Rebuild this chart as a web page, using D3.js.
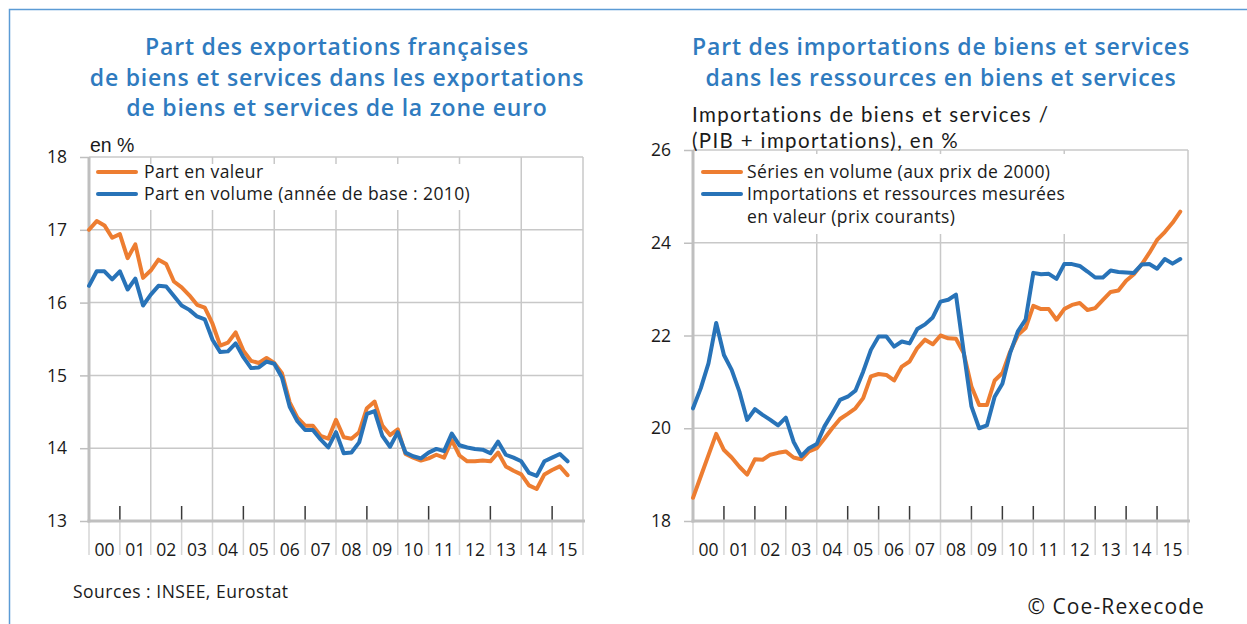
<!DOCTYPE html>
<html><head><meta charset="utf-8">
<script src="https://cdn.jsdelivr.net/npm/d3@7"></script>
<style>body{margin:0;background:#fff} svg{display:block}</style>
</head><body><svg id="c" width="1247" height="624"></svg>
<script>
// ---------- DATA ----------
const yearLabels = ["00","01","02","03","04","05","06","07","08","09","10","11","12","13","14","15"];
// Left chart: quarterly 2000Q1 - 2015Q3
const exportsValeur = [17.00,17.12,17.06,16.89,16.94,16.61,16.80,16.34,16.44,16.59,16.53,16.29,16.21,16.10,15.97,15.93,
  15.71,15.41,15.45,15.59,15.34,15.20,15.17,15.24,15.17,15.03,14.63,14.42,14.31,14.31,14.17,14.13,
  14.39,14.15,14.13,14.22,14.55,14.64,14.31,14.18,14.26,13.92,13.87,13.83,13.86,13.91,13.87,14.11,
  13.90,13.82,13.82,13.83,13.82,13.94,13.75,13.69,13.64,13.49,13.44,13.64,13.70,13.75,13.63];
const exportsVolume = [16.23,16.43,16.43,16.32,16.43,16.18,16.33,15.96,16.11,16.23,16.22,16.09,15.96,15.90,15.81,15.77,
  15.49,15.32,15.33,15.44,15.25,15.10,15.11,15.19,15.16,14.97,14.57,14.37,14.25,14.25,14.12,14.01,
  14.22,13.93,13.94,14.08,14.47,14.51,14.17,14.02,14.22,13.94,13.89,13.86,13.94,13.99,13.96,14.20,
  14.04,14.01,13.99,13.98,13.93,14.09,13.91,13.87,13.82,13.66,13.62,13.82,13.87,13.92,13.82];
const leftTicks = [13,14,15,16,17,18];
const leftLegend = ["Part en valeur","Part en volume (année de base : 2010)"];

// Right chart: quarterly 2000Q1 - 2015Q4
const importsVolume = [18.50,18.96,19.42,19.88,19.53,19.37,19.17,19.00,19.33,19.32,19.43,19.47,19.50,19.37,19.33,19.50,
  19.57,19.78,20.00,20.20,20.31,20.43,20.65,21.12,21.17,21.15,21.03,21.33,21.44,21.73,21.91,21.81,
  22.00,21.94,21.93,21.62,20.90,20.50,20.50,21.03,21.19,21.65,22.01,22.16,22.64,22.57,22.57,22.34,
  22.57,22.66,22.70,22.55,22.59,22.77,22.94,22.97,23.18,23.32,23.53,23.78,24.06,24.23,24.43,24.67];
const importsValeur = [20.43,20.86,21.40,22.27,21.58,21.26,20.79,20.18,20.41,20.29,20.18,20.06,20.23,19.71,19.40,19.57,
  19.66,20.04,20.32,20.61,20.68,20.81,21.22,21.69,21.98,21.98,21.76,21.87,21.83,22.14,22.24,22.39,
  22.73,22.77,22.88,21.65,20.47,20.00,20.06,20.68,20.96,21.62,22.09,22.34,23.35,23.32,23.33,23.22,
  23.54,23.54,23.50,23.38,23.25,23.25,23.40,23.37,23.36,23.35,23.53,23.54,23.44,23.65,23.55,23.65];
const rightTicks = [18,20,22,24,26];
const rightLegend = ["Séries en volume (aux prix de 2000)","Importations et ressources mesurées","en valeur (prix courants)"];

const leftTitle = ["Part des exportations françaises","de biens et services dans les exportations","de biens et services de la zone euro"];
const rightTitle = ["Part des importations de biens et services","dans les ressources en biens et services"];
const rightSubtitle = ["Importations de biens et services /","(PIB + importations), en %"];

// ---------- STYLE ----------
const ORANGE = "#ed7d31", BLUE = "#2873b8", TITLE = "#2f7bbf";
const GRID = "#c8c8c8", AXIS = "#bfbfbf", SEP = "#d6d6d6", TICK = "#3a3a3a";
const FONT = "'Open Sans', Lato, sans-serif";

const svg = d3.select("#c");

svg.append("rect").attr("x",9.5).attr("y",9.5).attr("width",1260).attr("height",640)
  .attr("fill","none").attr("stroke","#5b9bd5").attr("stroke-width",1.5);

function chart(opt){
  const g = svg.append("g");
  const x = d3.scaleLinear().domain([2000,2016]).range([opt.x0,opt.x1]);
  const y = d3.scaleLinear().domain(opt.yDomain).range([opt.yBottom,opt.yTop]);
  const years = d3.range(2000,2017);

  g.append("g").selectAll("line").data(opt.ticks.filter(t=>t!==opt.yDomain[0])).join("line")
    .attr("x1",opt.x0).attr("x2",opt.x1).attr("y1",d=>y(d)).attr("y2",d=>y(d))
    .attr("stroke",GRID).attr("stroke-width",1.5);
  const gridYears = years.filter(yr=>yr>2000 && (yr-2000)%opt.gridEvery===0);
  g.append("g").selectAll("line").data(gridYears).join("line")
    .attr("x1",d=>x(d)).attr("x2",d=>x(d)).attr("y1",opt.yTop).attr("y2",opt.yBottom)
    .attr("stroke",GRID).attr("stroke-width",1.5);
  g.append("g").selectAll("line").data(years.filter(yr=>yr>2000 && yr<2016 && (yr-2000)%opt.gridEvery!==0)).join("line")
    .attr("x1",d=>x(d)).attr("x2",d=>x(d)).attr("y1",opt.yBottom-15).attr("y2",opt.yBottom)
    .attr("stroke",TICK).attr("stroke-width",1.5);
  g.append("g").selectAll("line").data(years).join("line")
    .attr("x1",d=>x(d)).attr("x2",d=>x(d)).attr("y1",opt.yBottom).attr("y2",opt.yBottom+34)
    .attr("stroke",SEP).attr("stroke-width",1.5);
  g.append("g").selectAll("text").data(yearLabels).join("text")
    .attr("x",(d,i)=>x(2000+i+0.5)).attr("y",opt.yBottom+35)
    .attr("text-anchor","middle").attr("font-family",FONT).attr("font-size",17.5).attr("fill","#1a1a1a")
    .text(d=>d);

  g.append("rect").attr("x",opt.legBox[0]).attr("y",opt.legBox[1]).attr("width",opt.legBox[2]).attr("height",opt.legBox[3]).attr("fill","#fff");

  const ya = d3.axisLeft(y).tickValues(opt.ticks).tickSize(9).tickPadding(13).tickFormat(d3.format("d"));
  const yg = g.append("g").attr("transform",`translate(${opt.x0},0)`).call(ya);
  yg.select(".domain").attr("stroke",AXIS).attr("stroke-width",3).attr("d",`M0,${opt.yTop}V${opt.yBottom+1.5}`);
  yg.selectAll(".tick line").attr("stroke",AXIS).attr("stroke-width",1.5);
  yg.selectAll(".tick text").attr("font-family",FONT).attr("font-size",17.5).attr("fill","#1a1a1a");
  g.append("line").attr("x1",opt.x0-1.5).attr("x2",opt.x1+2).attr("y1",opt.yBottom).attr("y2",opt.yBottom)
    .attr("stroke",AXIS).attr("stroke-width",3);

  const line = d3.line().x((d,i)=>x(2000+i/4)).y(d=>y(d));
  opt.series.forEach(s=>{
    g.append("path").datum(s.values).attr("d",line).attr("fill","none")
      .attr("stroke",s.color).attr("stroke-width",4).attr("stroke-linejoin","round").attr("stroke-linecap","round");
  });

  opt.legend.forEach(l=>{
    if(l.color) g.append("line").attr("x1",l.lx).attr("x2",l.lx+38).attr("y1",l.y).attr("y2",l.y)
      .attr("stroke",l.color).attr("stroke-width",4).attr("stroke-linecap","round");
    g.append("text").attr("x",l.tx).attr("y",l.y+6).attr("font-family",FONT).attr("font-size",17.5)
      .attr("letter-spacing",0.4).attr("fill","#1a1a1a").text(l.text);
  });
}

chart({x0:89,x1:583,yTop:157,yBottom:521,yDomain:[13,18],ticks:leftTicks,gridEvery:2,
  legBox:[93,164,380,46],
  series:[{values:exportsValeur,color:ORANGE},{values:exportsVolume,color:BLUE}],
  legend:[{color:ORANGE,lx:98,tx:144,y:172,text:leftLegend[0]},{color:BLUE,lx:98,tx:144,y:194,text:leftLegend[1]}]});

chart({x0:693,x1:1188,yTop:150,yBottom:521,yDomain:[18,26],ticks:rightTicks,gridEvery:4,
  legBox:[697,154,368,80],
  series:[{values:importsVolume,color:ORANGE},{values:importsValeur,color:BLUE}],
  legend:[{color:ORANGE,lx:703,tx:747,y:172,text:rightLegend[0]},{color:BLUE,lx:703,tx:747,y:194,text:rightLegend[1]},{color:null,tx:747,y:217,text:rightLegend[2]}]});

leftTitle.forEach((t,i)=>svg.append("text").attr("x",337).attr("y",55+i*30.5).attr("text-anchor","middle")
  .attr("font-family",FONT).attr("font-weight",600).attr("font-size",23).attr("letter-spacing",0.8).attr("fill",TITLE).text(t));
rightTitle.forEach((t,i)=>svg.append("text").attr("x",941).attr("y",55+i*30.5).attr("text-anchor","middle")
  .attr("font-family",FONT).attr("font-weight",600).attr("font-size",23).attr("letter-spacing",0.8).attr("fill",TITLE).text(t));
rightSubtitle.forEach((t,i)=>svg.append("text").attr("x",692).attr("y",122+i*25.5).attr("font-family","Lato, sans-serif")
  .attr("font-size",20.5).attr("letter-spacing",1.35).attr("fill","#1a1a1a").text(t));
svg.append("text").attr("x",90).attr("y",152).attr("font-family","'Liberation Sans', Arial, sans-serif")
  .attr("font-size",19.5).attr("fill","#1a1a1a").text("en %");
svg.append("text").attr("x",73).attr("y",598).attr("font-family",FONT).attr("font-size",17.5).attr("letter-spacing",0.5).attr("fill","#1a1a1a")
  .text("Sources : INSEE, Eurostat");
svg.append("text").attr("x",1205).attr("y",614).attr("text-anchor","end").attr("font-family",FONT).attr("font-size",21)
  .attr("letter-spacing",1.1).attr("fill","#1a1a1a").text("© Coe-Rexecode");
</script></body></html>
